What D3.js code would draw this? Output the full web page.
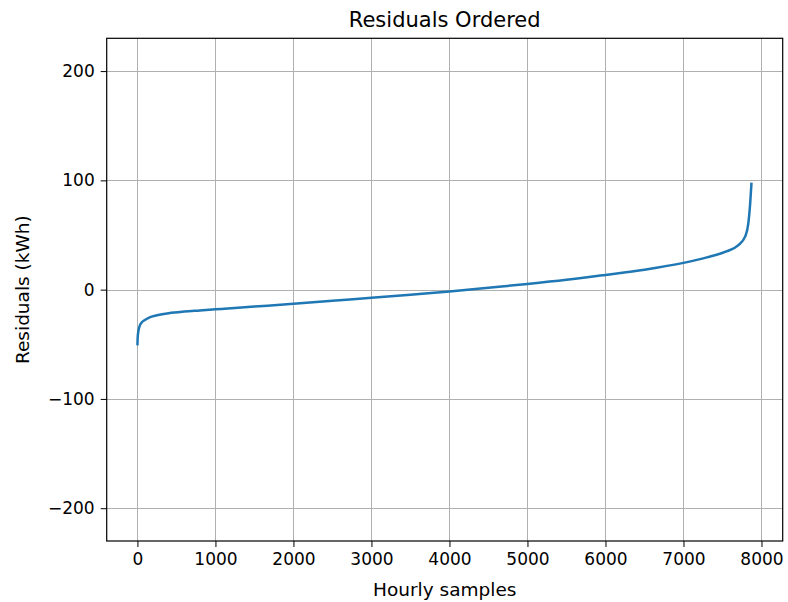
<!DOCTYPE html>
<html>
<head>
<meta charset="utf-8">
<script src="https://cdn.jsdelivr.net/npm/d3@7"></script>
<style>
  html, body { margin: 0; padding: 0; background: #fff; }
  svg { display: block; font-family: "DejaVu Sans", sans-serif; }
</style>
</head>
<body>
<svg id="chart" width="788" height="602"></svg>
<script>
// Sorted hourly residuals (sample index, residual in kWh)
const sampleIndex = [0, 3, 10, 25, 50, 90, 150, 250, 400, 600, 800, 1000, 1500, 2000, 2500, 3000, 3500, 4000, 4500, 5000, 5500, 6000, 6500, 7000, 7300, 7550, 7700, 7790, 7830, 7855, 7872];
const residuals   = [-51, -44, -39, -34, -30.5, -28, -25.5, -23.5, -21.5, -20, -19, -18, -15.5, -13, -10.2, -7.5, -4.6, -1.6, 1.8, 5.2, 9, 13.5, 18.3, 24.5, 29.5, 35, 40.5, 48.5, 60, 79, 98];

const xTicks = [0, 1000, 2000, 3000, 4000, 5000, 6000, 7000, 8000];
const yTicks = [-200, -100, 0, 100, 200];
const xDomain = [-394, 8272];
const yDomain = [-230, 230];

const titleText = "Residuals Ordered";
const xLabelText = "Hourly samples";
const yLabelText = "Residuals (kWh)";

const svg = d3.select("#chart");
const plotLeft = 106.7, plotRight = 782.7, plotTop = 38.3, plotBottom = 541;

const x = d3.scaleLinear().domain(xDomain).range([plotLeft, plotRight]);
const y = d3.scaleLinear().domain(yDomain).range([plotBottom, plotTop]);

const fmt = v => (v < 0 ? "\u2212" + Math.abs(v) : String(v));

// grid lines
const grid = svg.append("g").attr("stroke", "#b0b0b0").attr("stroke-width", 1);
grid.selectAll("line.gx").data(xTicks).join("line")
  .attr("class", "gx")
  .attr("x1", d => Math.round(x(d)) + 0.5).attr("x2", d => Math.round(x(d)) + 0.5)
  .attr("y1", plotTop).attr("y2", plotBottom);
grid.selectAll("line.gy").data(yTicks).join("line")
  .attr("class", "gy")
  .attr("y1", d => Math.round(y(d)) + 0.5).attr("y2", d => Math.round(y(d)) + 0.5)
  .attr("x1", plotLeft).attr("x2", plotRight);

// data line
const pts = sampleIndex.map((s, i) => [s, residuals[i]]);
const line = d3.line().x(d => x(d[0])).y(d => y(d[1])).curve(d3.curveMonotoneX);
svg.append("path")
  .datum(pts)
  .attr("d", line)
  .attr("fill", "none")
  .attr("stroke", "#1f77b4")
  .attr("stroke-width", 2.5)
  .attr("stroke-linejoin", "round")
  .attr("stroke-linecap", "butt");

// axes
const xAxis = d3.axisBottom(x).tickValues(xTicks).tickSizeInner(6).tickSizeOuter(0).tickPadding(6).tickFormat(fmt);
const yAxis = d3.axisLeft(y).tickValues(yTicks).tickSizeInner(6).tickSizeOuter(0).tickPadding(6).tickFormat(fmt);

const gx = svg.append("g").attr("transform", `translate(0,${plotBottom})`).call(xAxis);
const gy = svg.append("g").attr("transform", `translate(${plotLeft},0)`).call(yAxis);
[gx, gy].forEach(g => {
  g.select(".domain").remove();
  g.selectAll(".tick line").attr("stroke", "#000").attr("stroke-width", 1);
  g.selectAll(".tick text").attr("fill", "#000").attr("font-size", 17)
    .attr("font-family", "DejaVu Sans, sans-serif");
});

// frame
svg.append("rect")
  .attr("x", plotLeft).attr("y", plotTop)
  .attr("width", plotRight - plotLeft).attr("height", plotBottom - plotTop)
  .attr("fill", "none").attr("stroke", "#000").attr("stroke-width", 1.2);

// title and axis labels
svg.append("text")
  .attr("x", (plotLeft + plotRight) / 2).attr("y", 26.7)
  .attr("text-anchor", "middle").attr("font-size", 21).attr("fill", "#000")
  .text(titleText);

svg.append("text")
  .attr("x", (plotLeft + plotRight) / 2).attr("y", 596)
  .attr("text-anchor", "middle").attr("font-size", 18.5).attr("fill", "#000")
  .text(xLabelText);

svg.append("text")
  .attr("transform", `translate(29,${(plotTop + plotBottom) / 2}) rotate(-90)`)
  .attr("text-anchor", "middle").attr("font-size", 18.5).attr("fill", "#000")
  .text(yLabelText);
</script>
</body>
</html>
